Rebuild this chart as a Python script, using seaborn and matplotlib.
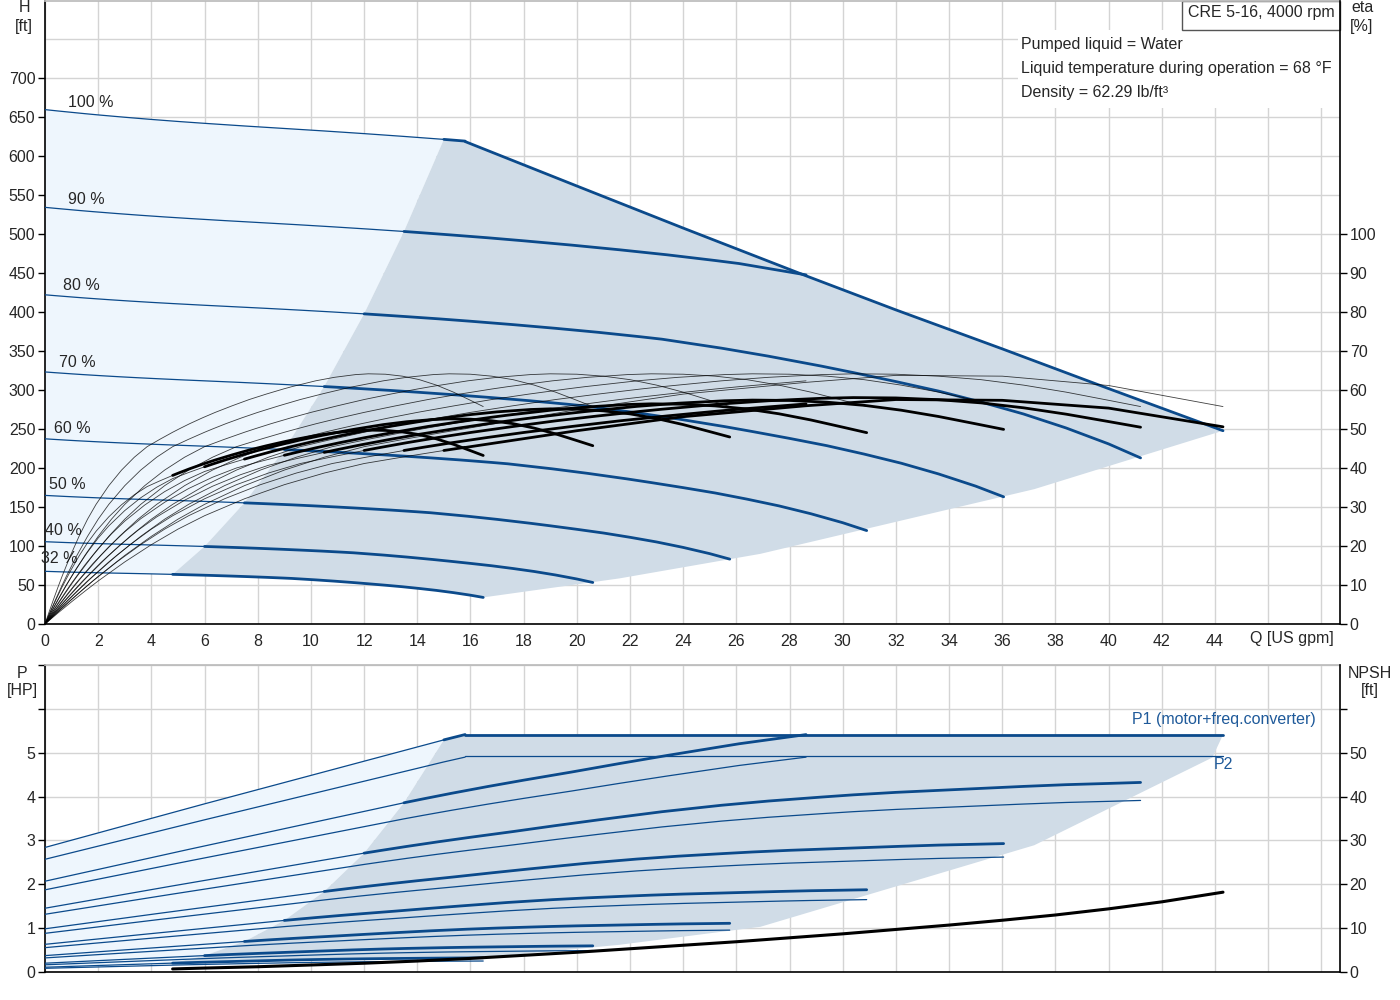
import numpy as np
import pandas as pd
import matplotlib
matplotlib.use("Agg")
import matplotlib.pyplot as plt
import seaborn as sns
from matplotlib.patches import Rectangle

# pump data (full speed curve, US gpm / ft / % / HP)
speeds = [100, 90, 80, 70, 60, 50, 40, 32]
drive_eff = [0.905, 0.905, 0.905, 0.895, 0.88, 0.86, 0.82, 0.775]
q_end = [15.8, 31.8, 51.5, 51.5, 51.5, 51.5, 51.5, 51.5]
q_min = 15.0

q_base = np.array([0, 0.5, 1, 1.5, 2, 3, 4, 5, 6, 7.5, 9, 10.5, 12, 13.5, 15, 15.8, 17, 18.5, 20, 22,
                   24, 26, 28, 29, 31.8, 34, 36.5, 38, 40, 42, 44, 46, 48, 50, 51.5])
h_base = np.array([660, 658.2, 656.5, 654.8, 653.2, 650.2, 647.4, 644.8, 642.4, 639, 635.8, 632.6, 629.2,
                   625.6, 621.8, 619.6, 616.2, 611.8, 607, 600.2, 592.8, 584.8, 575.8, 571, 553, 537,
                   517, 504, 486, 467, 445, 421, 393, 361, 333])
eta_base = np.array([0, 3.2, 6.3, 9.3, 12.2, 17.6, 22.5, 26.9, 30.7, 35.5, 39.5, 42.8, 45.5, 47.4, 49.2,
                     50.1, 51.4, 52.9, 54.3, 56.0, 57.6, 59.0, 60.3, 60.9, 62.4, 63.3, 64.0, 64.2, 64.1,
                     63.6, 62.7, 61.3, 59.5, 57.4, 55.8])
p2_base = np.array([2.57, 2.645, 2.72, 2.795, 2.87, 3.02, 3.17, 3.32, 3.47, 3.69, 3.91, 4.13, 4.35, 4.57,
                    4.79, 4.9, 5.06, 5.25, 5.43, 5.66, 5.9, 6.13, 6.35, 6.46, 6.72, 6.89, 7.05, 7.14, 7.24,
                    7.32, 7.4, 7.48, 7.55, 7.6, 7.64])

# max power limit line
q_limit = [15.8, 20, 24, 28.6, 32, 36, 40, 44.3]
h_limit = [619, 562, 508, 447, 403, 353, 302, 248]
eta_p_limit = [50.1, 55.0, 59.0, 62.0, 63.8, 63.6, 61.2, 55.8]
eta_t_limit = [45.3, 49.6, 53.2, 56.0, 57.6, 57.4, 55.4, 50.6]
p1_limit = 5.41
p2_limit = 4.92

# lower edge of the operating area
q_edge_h = [44.3, 37.2, 26.9, 21.6, 16.48]
h_edge = [248, 173, 90, 58.5, 34.1]
q_edge_p = [44.3, 43.9, 37.2, 26.9, 21.6, 16.48]
p_edge = [5.41, 4.89, 2.89, 1.03, 0.62, 0.323]

npsh_q = [4.8, 6, 8, 10, 12, 14, 16, 18, 20, 22, 24, 26, 28, 30, 32, 34, 36, 38, 40, 42, 44.3]
npsh_ft = [0.7, 0.9, 1.2, 1.6, 2.0, 2.5, 3.1, 3.8, 4.5, 5.3, 6.1, 6.9, 7.8, 8.7, 9.7, 10.7, 11.8,
           13.0, 14.4, 16.0, 18.2]

BLUE = "#0B4A8B"
LIGHT = "#EEF6FD"
DARK = "#D0DCE7"
GRID = "#D4D4D4"
FS = 11.5

sns.set_theme(style="whitegrid", rc={"grid.color": GRID, "grid.linewidth": 1.0})
plt.rcParams['font.family'] = ['Liberation Sans', 'DejaVu Sans']
plt.rcParams['font.size'] = FS


def line(ax, x, y, lw, color, z=3, alpha=1.0):
    sns.lineplot(x=np.asarray(x, float), y=np.asarray(y, float), ax=ax, color=color,
                 linewidth=lw, alpha=alpha, sort=False, estimator=None, zorder=z, legend=False)


# affinity laws: Q ~ n, H ~ n^2, P ~ n^3
curves = []
for s, eff, qe in zip(speeds, drive_eff, q_end):
    r = s / 100
    keep = q_base <= qe + 1e-9
    df = pd.DataFrame({'q': q_base[keep]})
    df['Q'] = df['q'] * r
    df['H'] = h_base[keep] * r ** 2
    df['eta_p'] = eta_base[keep]
    df['eta_t'] = eta_base[keep] * eff
    df['P2'] = p2_base[keep] * r ** 3
    df['P1'] = df['P2'] / eff
    curves.append(df)

starts = pd.DataFrame([c[c.q == q_min].iloc[0] for c in curves])

fig = plt.figure(figsize=(14, 10), dpi=100)
ax = fig.add_axes([45 / 1400, 376 / 1000, 1295 / 1400, 623.5 / 1000])
ax2 = fig.add_axes([45 / 1400, 28 / 1000, 1295 / 1400, 307 / 1000])
eta_ax = ax.twinx()
npsh_ax = ax2.twinx()

top, low = curves[0], curves[-1]
lt = top[top.q <= q_min]
ll = low[low.q <= q_min]
tt = top[top.q >= q_min]
lk = low[low.q >= q_min]

# --- top: shaded areas
ax.fill(list(lt.Q) + list(starts.Q[1:]) + list(ll.Q[::-1]),
        list(lt.H) + list(starts.H[1:]) + list(ll.H[::-1]), color=LIGHT, lw=0, zorder=1)
ax.fill(list(starts.Q[::-1]) + list(tt.Q) + q_limit + q_edge_h + list(lk.Q[::-1]),
        list(starts.H[::-1]) + list(tt.H) + h_limit + h_edge + list(lk.H[::-1]),
        color=DARK, lw=0, zorder=1)

# --- bottom: shaded areas
ax2.fill(list(lt.Q) + list(starts.Q[1:]) + list(ll.Q[::-1]),
         list(lt.P1) + list(starts.P1[1:]) + list(ll.P1[::-1]), color=LIGHT, lw=0, zorder=1)
ax2.fill(list(starts.Q[::-1]) + list(tt.Q) + [q_limit[0], q_limit[-1]] + q_edge_p + list(lk.Q[::-1]),
         list(starts.P1[::-1]) + list(tt.P1) + [p1_limit, p1_limit] + p_edge + list(lk.P1[::-1]),
         color=DARK, lw=0, zorder=1)

for c in curves:
    thin = c[c.q <= q_min]
    thick = c[c.q >= q_min]
    line(ax, thin.Q, thin.H, 0.9, BLUE, 3)
    line(ax, thick.Q, thick.H, 2.0, BLUE, 4)
    line(eta_ax, c.Q, c.eta_p, 0.6, "black", 3, 0.75)
    line(eta_ax, thin.Q, thin.eta_t, 0.6, "black", 3, 0.75)
    line(eta_ax, thick.Q, thick.eta_t, 2.0, "black", 4)
    line(ax2, c.Q, c.P2, 0.9, BLUE, 3)
    line(ax2, thin.Q, thin.P1, 0.9, BLUE, 3)
    line(ax2, thick.Q, thick.P1, 2.0, BLUE, 4)

line(ax, q_limit, h_limit, 2.0, BLUE, 4)
line(eta_ax, q_limit, eta_p_limit, 0.6, "black", 3, 0.75)
line(eta_ax, q_limit, eta_t_limit, 2.0, "black", 4)
line(ax2, [q_limit[0], q_limit[-1]], [p1_limit, p1_limit], 2.0, BLUE, 4)
line(ax2, [q_limit[0], q_limit[-1]], [p2_limit, p2_limit], 0.9, BLUE, 3)
line(npsh_ax, npsh_q, npsh_ft, 2.2, "black", 4)

# speed labels
label_q = [0.87, 0.87, 0.68, 0.53, 0.34, 0.15, 0.0, -0.15]
label_h = [669, 545, 434, 335, 251, 179, 120, 84]
for s, xq, yh in zip(speeds, label_q, label_h):
    ax.text(xq, yh, f"{s} %", ha='left', va='center', fontsize=FS, zorder=6)

# axes setup
xt = np.arange(0, 49, 2)
for a in (ax, ax2):
    a.set_xlim(0, 48.7)
    a.set_xticks(xt)
    a.set_axisbelow(True)
    a.grid(True, color=GRID, lw=1.0)
    a.set_xlabel('')
    a.set_ylabel('')
    for side in ('left', 'bottom'):
        a.spines[side].set_color('black')
        a.spines[side].set_linewidth(1.2)
    a.spines['top'].set_color('#BBBBBB')
    a.spines['right'].set_visible(False)
ax.set_xticklabels([str(v) if v <= 44 else '' for v in xt])
ax2.set_xticklabels([])
ax.tick_params(axis='x', length=0, pad=7, labelsize=FS)
ax2.tick_params(axis='x', length=0)

ax.set_ylim(0, 800)
ax.set_yticks(np.arange(0, 701, 50))
ax.axhline(750, color=GRID, lw=1.0, zorder=0.5)
ax2.set_ylim(0, 7)
ax2.set_yticks(range(0, 8))
ax2.set_yticklabels([str(v) if v <= 5 else '' for v in range(0, 8)])
for a in (ax, ax2):
    a.tick_params(axis='y', direction='out', length=5, width=1, color='black', pad=2, labelsize=FS, left=True)

eta_ax.set_ylim(0, 160)
eta_ax.set_yticks(range(0, 101, 10))
npsh_ax.set_ylim(0, 70)
npsh_ax.set_yticks(range(0, 61, 10))
npsh_ax.set_yticklabels([str(v) if v <= 50 else '' for v in range(0, 61, 10)])
for t in (eta_ax, npsh_ax):
    t.grid(False)
    t.set_ylabel('')
    for side in ('left', 'top', 'bottom'):
        t.spines[side].set_visible(False)
    t.spines['right'].set_color('black')
    t.spines['right'].set_linewidth(1.2)
    t.tick_params(axis='y', direction='out', length=5, width=1, color='black', pad=2, labelsize=FS, right=True)

# info boxes
ax.add_patch(Rectangle((0.751, 0.827), 0.249, 0.125, transform=ax.transAxes,
                       facecolor='white', edgecolor='none', zorder=2))
ax.add_patch(Rectangle((0.878, 0.953), 0.122, 0.047, transform=ax.transAxes,
                       facecolor='white', edgecolor='#555555', lw=1.0, zorder=2, clip_on=False))
ax.text(0.883, 0.981, "CRE 5-16, 4000 rpm", transform=ax.transAxes, ha='left', va='center', fontsize=11.5, zorder=6)
for yy, txt in zip([0.929, 0.891, 0.852],
                   ["Pumped liquid = Water", "Liquid temperature during operation = 68 °F", "Density = 62.29 lb/ft³"]):
    ax.text(0.754, yy, txt, transform=ax.transAxes, ha='left', va='center', fontsize=FS, zorder=6)

ax.text(46.9, -0.0225, "Q [US gpm]", transform=ax.get_xaxis_transform(), ha='center', va='center', fontsize=FS)
ax2.text(40.88, 5.75, "P1 (motor+freq.converter)", color="#1F5A9A", ha='left', va='center', fontsize=FS, zorder=6)
ax2.text(43.96, 4.73, "P2", color="#1F5A9A", ha='left', va='center', fontsize=FS, zorder=6)

# axis titles, two lines each, placed in pixels of the 1400x1000 figure
for px, py, txt in [(24, 8, "H"), (24, 26, "[ft]"), (1362, 8, "eta"), (1362, 26, "[%]"),
                    (22, 673, "P"), (22, 691, "[HP]"), (1370, 673, "NPSH"), (1370, 691, "[ft]")]:
    fig.text(px / 1400, 1 - py / 1000, txt, ha='center', va='center', fontsize=FS)

fig.savefig("out.png", dpi=100, facecolor='white')
